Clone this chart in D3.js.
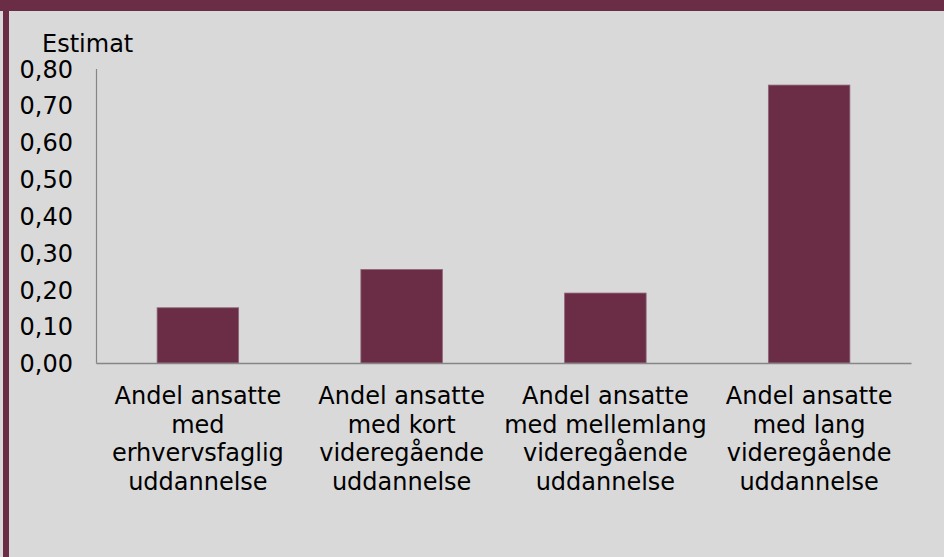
<!DOCTYPE html>
<html>
<head>
<meta charset="utf-8">
<script src="https://cdn.jsdelivr.net/npm/d3@7"></script>
<style>
  body { margin: 0; background: #d9d9d9; }
  svg { display: block; font-family: "DejaVu Sans", Verdana, sans-serif; }
</style>
</head>
<body>
<div id="chart"></div>
<script>
const categories = [
    ['Andel ansatte', 'med', 'erhvervsfaglig', 'uddannelse'],
    ['Andel ansatte', 'med kort', 'videregående', 'uddannelse'],
    ['Andel ansatte', 'med mellemlang', 'videregående', 'uddannelse'],
    ['Andel ansatte', 'med lang', 'videregående', 'uddannelse']
];
const estimates = [0.15, 0.254, 0.19, 0.755];
const yTicks = [0, 0.1, 0.2, 0.3, 0.4, 0.5, 0.6, 0.7, 0.8];

const width = 944, height = 557;
const maroon = '#6b2d46';

const svg = d3.select('#chart')
    .append('svg')
    .attr('width', width)
    .attr('height', height);

// background + frame
svg.append('rect').attr('width', width).attr('height', height).attr('fill', '#d9d9d9');
svg.append('rect').attr('x', 0).attr('y', 0).attr('width', width).attr('height', 11).attr('fill', maroon);
svg.append('rect').attr('x', 3).attr('y', 0).attr('width', 6).attr('height', height).attr('fill', maroon);

const x = d3.scaleBand()
    .domain(d3.range(categories.length))
    .range([96, 911])
    .paddingInner(0.6)
    .paddingOuter(0.3);

const y = d3.scaleLinear()
    .domain([0, 0.8])
    .range([363, 68.5]);

const da = d3.formatLocale({ decimal: ',', thousands: '.', grouping: [3], currency: ['', ' kr'] });
const fmt = da.format('.2f');

// bars
svg.selectAll('rect.bar')
    .data(estimates)
    .enter()
    .append('rect')
    .attr('class', 'bar')
    .attr('x', (d, i) => x(i))
    .attr('width', x.bandwidth())
    .attr('y', d => y(d))
    .attr('height', d => y(0) - y(d))
    .attr('fill', maroon)
    .attr('stroke', '#8e6677')
    .attr('stroke-width', 0.8);

// y axis
const yAxis = svg.append('g')
    .attr('transform', 'translate(96,0)')
    .call(d3.axisLeft(y).tickValues(yTicks).tickFormat(fmt).tickSize(0).tickPadding(23));
yAxis.select('.domain').attr('stroke', '#868686').attr('stroke-width', 1.2);
yAxis.selectAll('text')
    .attr('font-size', 24)
    .attr('font-family', '"DejaVu Sans", Verdana, sans-serif')
    .attr('fill', '#000')
    .attr('dy', '0.36em');

// x axis
const xAxis = svg.append('g')
    .attr('transform', 'translate(0,363)')
    .call(d3.axisBottom(x).tickSize(0).tickSizeOuter(0).tickFormat(''));
xAxis.select('.domain').attr('stroke', '#868686').attr('stroke-width', 1.5);
xAxis.selectAll('.tick text').remove();
xAxis.selectAll('.tick')
    .append('text')
    .attr('fill', '#000')
    .attr('font-size', 24)
    .attr('font-family', '"DejaVu Sans", Verdana, sans-serif')
    .attr('text-anchor', 'middle')
    .selectAll('tspan')
    .data(i => categories[i])
    .enter()
    .append('tspan')
    .attr('x', 0)
    .attr('y', (d, j) => 41 + j * 28.6)
    .text(d => d);

// axis title
svg.append('text')
    .attr('x', 42)
    .attr('y', 52)
    .attr('font-size', 24)
    .attr('fill', '#000')
    .text('Estimat');
</script>
</body>
</html>
